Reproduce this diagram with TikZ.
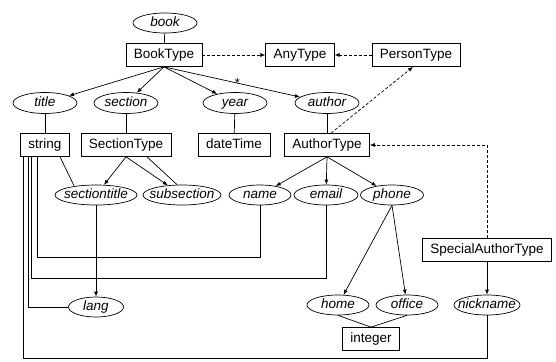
\documentclass[tikz,border=0pt]{standalone}
\usepackage{fontspec}
\setmainfont{Liberation Sans}
\usetikzlibrary{arrows.meta,positioning,shapes.geometric,calc}
\tikzset{
    link/.style    = {-{Latex[length=5pt,width=4pt]}, line width=0.7pt},
    typeof/.style  = {line width=0.7pt},
    derive/.style  = {-{Latex[length=5pt,width=4pt]}, line width=0.7pt, dash pattern=on 3pt off 2pt},
    typebox/.style = {draw, line width=0.7pt, minimum height=23pt, inner xsep=8pt, inner ysep=0pt,
            font=\fontsize{13.5}{15}\selectfont, text height=10pt, text depth=3pt},
    elem/.style    = {ellipse, draw, line width=0.7pt, inner sep=0pt, minimum height=20pt,
            font=\fontsize{13.5}{15}\selectfont\itshape, text height=9pt, text depth=2.5pt,
            execute at begin node={\hbox to 0pt\bgroup\hss},
            execute at end node={\hss\egroup}},
}
\begin{document}
\begin{tikzpicture}[x=1pt,y=-1pt]
    \useasboundingbox (0,0) rectangle (556,361);
    % Nodes
    \node[elem, minimum width=64pt] (book) at (165,23) {book};
    \node[typebox] (BookType)   at (164,55) {BookType};
    \node[typebox] (AnyType)    at (300,55) {AnyType};
    \node[typebox] (PersonType) at (416,55) {PersonType};

    \node[elem, minimum width=64pt, minimum height=21pt] (title)   at (45,103)  {title};
    \node[elem, minimum width=64pt, minimum height=21pt] (section) at (126,103) {section};
    \node[elem, minimum width=64pt, minimum height=21pt] (year)    at (235,103) {year};
    \node[elem, minimum width=64pt, minimum height=21pt] (author)  at (327,103) {author};

    \node[typebox] (string)      at (45,145)  {string};
    \node[typebox] (SectionType) at (126,145) {SectionType};
    \node[typebox] (dateTime)    at (234,145) {dateTime};
    \node[typebox] (AuthorType)  at (327,145) {AuthorType};

    \node[elem, minimum width=82pt] (sectiontitle) at (96,195)  {sectiontitle};
    \node[elem, minimum width=78pt] (subsection)   at (182,195) {subsection};
    \node[elem, minimum width=62pt] (name)         at (260,195) {name};
    \node[elem, minimum width=64pt] (email)        at (326,195) {email};
    \node[elem, minimum width=63pt] (phone)        at (392,195) {phone};

    \node[typebox] (SpecialAuthorType) at (487,250) {SpecialAuthorType};

    \node[elem, minimum width=55pt] (lang)     at (96,307)  {lang};
    \node[elem, minimum width=62pt] (home)     at (338,305) {home};
    \node[elem, minimum width=62pt] (office)   at (407,305) {office};
    \node[elem, minimum width=66pt] (nickname) at (487,305) {nickname};
    \node[typebox] (integer) at (371,339) {integer};

    % Arrows
    \draw[typeof] (book) -- (BookType);
    \draw[derive] (BookType) -- (AnyType);
    \draw[derive] (PersonType) -- (AnyType);
    \draw[link] (BookType.south) -- (title);
    \draw[link] (BookType.south) -- (section);
    \draw[link] (BookType.south) -- (year);
    \draw[link] (BookType.south) -- node[pos=.54, inner sep=0pt, font=\fontsize{13}{13}\selectfont]{*} (author);
    \draw[typeof] (title) -- (string);
    \draw[typeof] (section) -- (SectionType);
    \draw[typeof] (year) -- (dateTime);
    \draw[typeof] (author) -- (AuthorType);
    \draw[derive] ($(AuthorType.north)+(4,0)$) -- ($(PersonType.south)+(-3,0)$);

    \draw[link] (SectionType.south) -- (sectiontitle);
    \draw[link] (SectionType.south) -- (subsection);
    \draw[typeof] ($(SectionType.south)+(21,0)$) -- ($(subsection.north)+(-5,0)$);
    \draw[typeof] ($(string.south)+(15,0)$) -- ($(sectiontitle.north)+(-22,1)$);

    \draw[link] (AuthorType.south) -- (name);
    \draw[link] (AuthorType.south) -- (email);
    \draw[link] (AuthorType.south) -- (phone);
    \draw[link] (phone.south) -- (home);
    \draw[link] (phone.south) -- (office);
    \draw[typeof] (home.south) -- (integer.north);
    \draw[typeof] (office.south) -- (integer.north);

    \draw[derive] (SpecialAuthorType.north) |- (AuthorType.east);
    \draw[link] (SpecialAuthorType.south) -- (nickname.north);
    \draw[link] (sectiontitle.south) -- (lang.north);

    % links back to string
    \coordinate (namebend)  at (37,257);
    \coordinate (emailbend) at (31,278);
    \coordinate (langbend)  at (28,307);
    \coordinate (nickbend)  at (23,358);
    \draw[typeof] (name.south) |- (namebend) -- (namebend |- string.south);
    \draw[typeof] (email.south) |- (emailbend) -- (emailbend |- string.south);
    \draw[typeof] (lang.west) -- (langbend) -- (langbend |- string.south);
    \draw[typeof] (nickname.south) |- (nickbend) -- (nickbend |- string.south);
\end{tikzpicture}
\end{document}
